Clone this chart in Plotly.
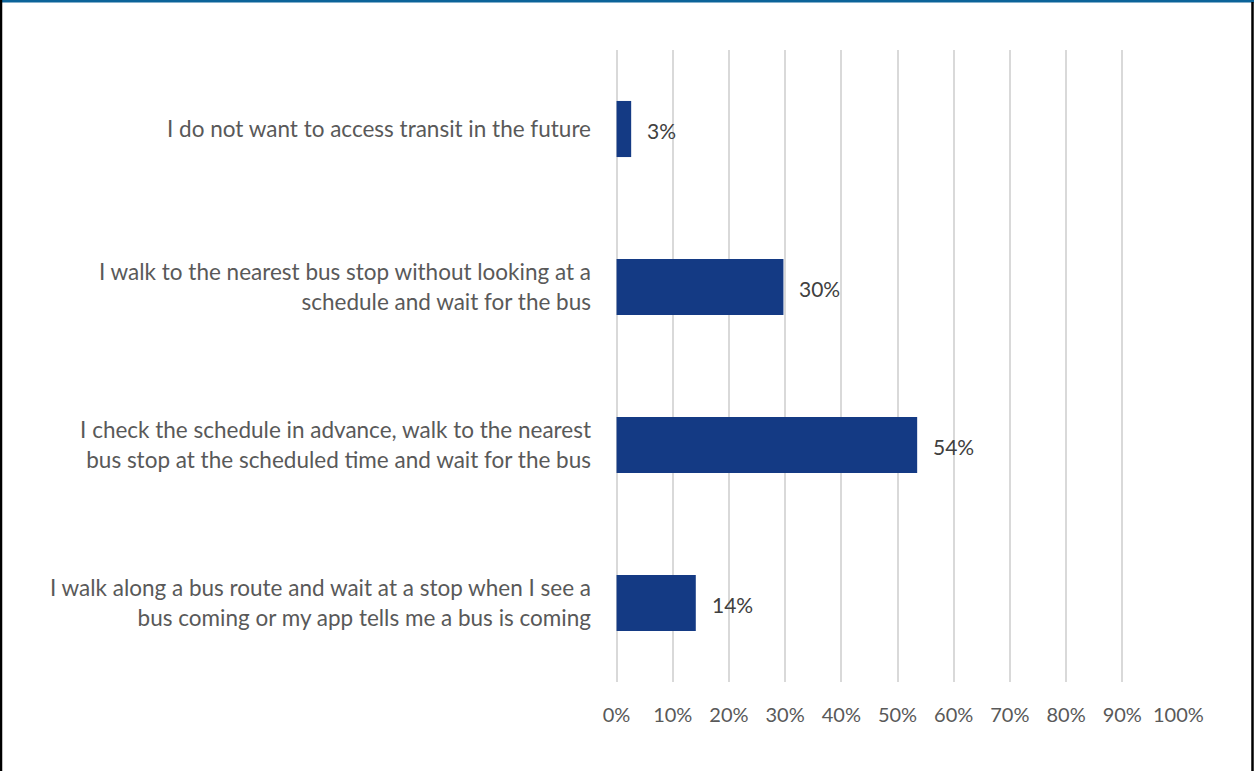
import plotly.graph_objects as go

categories = [
    "I walk along a bus route and wait at a stop when I see a<br>bus coming or my app tells me a bus is coming",
    "I check the schedule in advance, walk to the nearest<br>bus stop at the scheduled time and wait for the bus",
    "I walk to the nearest bus stop without looking at a<br>schedule and wait for the bus",
    "I do not want to access transit in the future",
]
values = [14.1, 53.5, 29.7, 2.6]
labels = ["14%", "54%", "30%", "3%"]
tick_vals = [0, 10, 20, 30, 40, 50, 60, 70, 80, 90, 100]
tick_text = [f"{v}%" for v in tick_vals]

W, H = 1254, 771
ML, MR, MT, MB = 616, 75, 50, 89
PW, PH = W - ML - MR, H - MT - MB

def px_x(p):
    return (p - ML) / PW

def px_y(p):
    return (H - MB - p) / PH

fig = go.Figure(go.Bar(
    x=values, y=categories, orientation="h",
    marker=dict(color="#143A84", line=dict(width=0)),
    cliponaxis=False,
    hoverinfo="x+y",
))

annotations = [
    dict(x=v, y=c, xref="x", yref="y", text=t, showarrow=False,
         xanchor="left", yanchor="middle", xshift=14, yshift=-1,
         font=dict(family="Lato", size=21, color="#404040"))
    for v, c, t in zip(values, categories, labels)
]

fig.update_layout(
    width=W, height=H,
    margin=dict(l=ML, r=MR, t=MT, b=MB, pad=0),
    paper_bgcolor="white", plot_bgcolor="white",
    bargap=0.645,
    showlegend=False,
    font=dict(family="Lato", color="#595959", size=20),
    xaxis=dict(range=[-0.1, 100.1], tickvals=tick_vals, ticktext=tick_text,
               showgrid=True, gridcolor="#D9D9D9", gridwidth=2,
               zeroline=True, zerolinecolor="#D9D9D9", zerolinewidth=2,
               showline=False, ticks="",
               ticklabelstandoff=19,
               tickfont=dict(size=20, color="#595959")),
    yaxis=dict(showgrid=False, zeroline=False, showline=False, ticks="",
               ticklabelstandoff=24,
               tickfont=dict(size=22.5, color="#595959")),
    annotations=annotations,
    shapes=[
        dict(type="line", xref="paper", yref="paper", x0=px_x(0), x1=px_x(W), y0=px_y(1), y1=px_y(1),
             line=dict(color="#0B6399", width=3)),
        dict(type="line", xref="paper", yref="paper", x0=px_x(1), x1=px_x(1), y0=px_y(0), y1=px_y(H),
             line=dict(color="#000000", width=2.5)),
        dict(type="line", xref="paper", yref="paper", x0=px_x(W - 1.5), x1=px_x(W - 1.5), y0=px_y(2), y1=px_y(H),
             line=dict(color="#000000", width=2.5)),
    ],
)

fig.write_html(
    "out.html",
    config={"displayModeBar": False},
    post_script="document.body.style.margin='0';document.body.style.overflow='hidden';",
)
